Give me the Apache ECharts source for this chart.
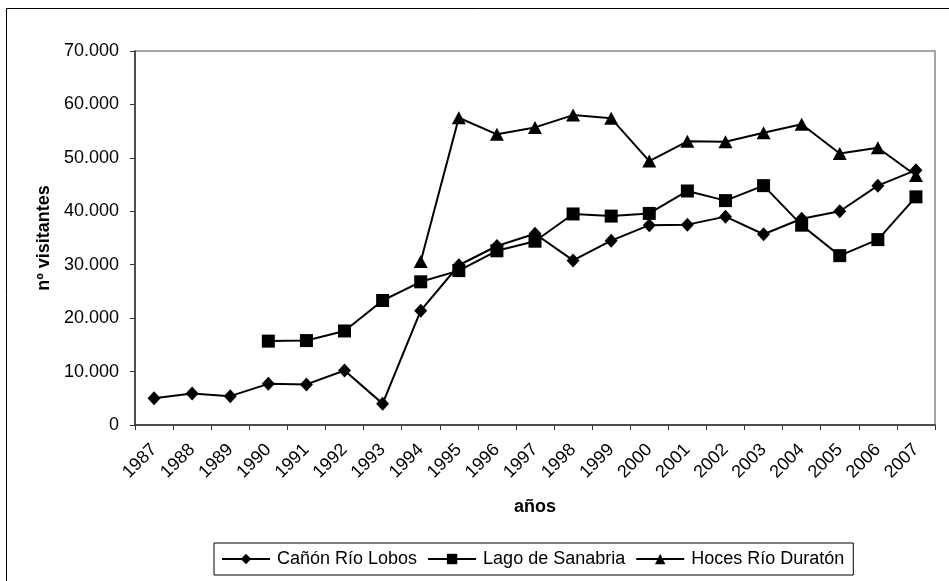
<!DOCTYPE html>
<html>
<head>
<meta charset="utf-8">
<script src="https://cdn.jsdelivr.net/npm/echarts@6/dist/echarts.min.js"></script>
<style>
html,body{margin:0;padding:0;background:#fff;}
#chart{width:949px;height:581px;}
</style>
</head>
<body>
<div id="chart"></div>
<script>
const years = ['1987','1988','1989','1990','1991','1992','1993','1994','1995','1996','1997','1998','1999','2000','2001','2002','2003','2004','2005','2006','2007'];
const canonRioLobos = [5000,5900,5400,7700,7600,10200,4000,21400,29900,33500,35800,30800,34500,37400,37500,39000,35700,38600,40000,44800,47700];
const lagoSanabria = [null,null,null,15700,15800,17600,23300,26800,28900,32600,34400,39500,39100,39600,43800,42000,44800,37400,31700,34700,42700];
const hocesDuraton = [null,null,null,null,null,null,null,30600,57500,54400,55700,58000,57400,49400,53100,53000,54700,56300,50800,51900,46700];
const seriesNames = ['Cañón Río Lobos','Lago de Sanabria','Hoces Río Duratón'];
const yTicks = {min:0, max:70000, interval:10000};

const FONT = '"Liberation Sans", Arial, sans-serif';
const chart = echarts.init(document.getElementById('chart'), null, {renderer:'canvas'});

function fmt(v){
  if (v === 0) return '0';
  const s = String(Math.round(v));
  return s.replace(/\B(?=(\d{3})+(?!\d))/g, '.');
}

const lineStyle = {color:'#000', width:2};
chart.setOption({
  backgroundColor:'#fff',
  animation:false,
  textStyle:{fontFamily:FONT, color:'#000'},
  graphic:[{
    type:'rect', shape:{x:6.5, y:8.5, width:980, height:620},
    style:{fill:'none', stroke:'#000', lineWidth:1}, z:-10
  }],
  grid:{left:135, right:14, top:51, bottom:156, show:true, borderColor:'#888', borderWidth:1.5, backgroundColor:'#fff'},
  legend:{
    left:214, top:543,
    data:seriesNames,
    itemWidth:48, itemHeight:13, itemGap:10,
    padding:[7,9,7,7],
    borderColor:'#000', borderWidth:1, backgroundColor:'#fff',
    textStyle:{fontFamily:FONT, fontSize:18, color:'#000', padding:[0,0,0,2]}
  },
  xAxis:{
    type:'category', data:years, boundaryGap:true,
    name:'años', nameLocation:'middle', nameGap:73,
    nameTextStyle:{fontFamily:FONT, fontSize:18, fontWeight:'bold', color:'#000'},
    axisLine:{lineStyle:{color:'#333', width:1.5}},
    axisTick:{show:true, alignWithLabel:false, length:5, lineStyle:{color:'#333', width:1}},
    axisLabel:{rotate:45, interval:0, margin:22, fontSize:18, fontFamily:FONT, color:'#000'},
    splitLine:{show:false}
  },
  yAxis:{
    type:'value', min:yTicks.min, max:yTicks.max, interval:yTicks.interval,
    name:'nº visitantes', nameLocation:'middle', nameGap:82, nameRotate:90,
    nameTextStyle:{fontFamily:FONT, fontSize:18, fontWeight:'bold', color:'#000'},
    axisLine:{show:true, lineStyle:{color:'#333', width:1.5}},
    axisTick:{show:true, length:5, lineStyle:{color:'#333', width:1}},
    axisLabel:{margin:16, fontSize:18, fontFamily:FONT, color:'#000', formatter:fmt},
    splitLine:{show:false}
  },
  series:[
    {name:seriesNames[0], type:'line', data:canonRioLobos, symbol:'diamond', symbolSize:[13,14],
     itemStyle:{color:'#000'}, lineStyle:lineStyle, connectNulls:false},
    {name:seriesNames[1], type:'line', data:lagoSanabria, symbol:'rect', symbolSize:13,
     itemStyle:{color:'#000'}, lineStyle:lineStyle, connectNulls:false},
    {name:seriesNames[2], type:'line', data:hocesDuraton, symbol:'triangle', symbolSize:[14,13],
     itemStyle:{color:'#000'}, lineStyle:lineStyle, connectNulls:false}
  ]
});
</script>
</body>
</html>
